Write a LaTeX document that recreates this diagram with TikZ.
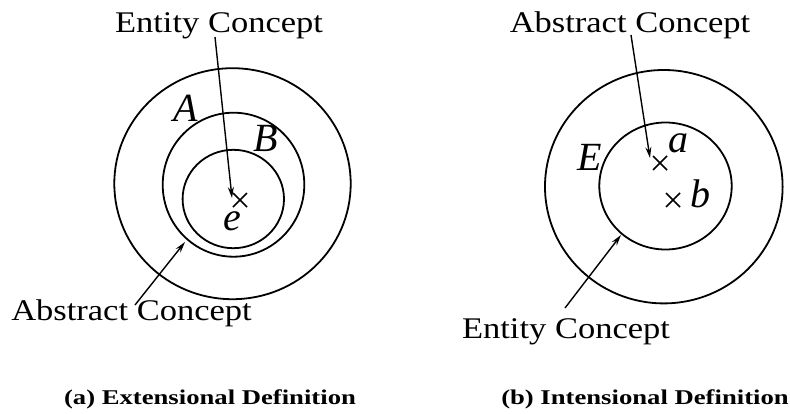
\documentclass[tikz,border=0pt]{standalone}
\usepackage{fontspec}
\setmainfont{Liberation Serif}
\newfontfamily\lblfont[FakeStretch=1.15]{Liberation Serif}
\newfontfamily\capfont[FakeStretch=1.27]{Liberation Serif Bold}
\usetikzlibrary{arrows.meta}
\tikzset{
  ring/.style={line width=1.8pt},
  arr/.style={line width=1.4pt,-{Stealth[length=11pt,width=6pt]}},
  crossline/.style={line width=1.5pt},
  txtlbl/.style={inner sep=0pt,anchor=base,font=\lblfont\fontsize{30}{34}\selectfont},
  varlbl/.style={inner sep=0pt,anchor=base,font=\fontsize{40}{44}\selectfont\itshape},
  captxt/.style={inner sep=0pt,anchor=base,font=\capfont\fontsize{21}{24}\selectfont},
}
\begin{document}
\begin{tikzpicture}[x=1pt,y=-1pt]
\useasboundingbox (0,0) rectangle (790,413);
% ---------- (a) ----------
\draw[ring] (232.5,183.7) ellipse [x radius=118.2, y radius=115.5];
\draw[ring] (233.5,184.7) ellipse [x radius=70.8, y radius=72];
\draw[ring] (233.3,199) ellipse [x radius=50.7, y radius=49.2];
\draw[crossline] (233,193) -- (247,207) (233,207) -- (247,193);
\node[varlbl] (A) at (186,121) {A};
\node[varlbl] (B) at (266,151) {B};
\node[varlbl] (e) at (232,230) {e};
\node[txtlbl] (ent1) at (219,32.5) {Entity Concept};
\node[txtlbl] (abs1) at (131.5,320) {Abstract Concept};
\coordinate (ent1s) at (215,37);
\coordinate (ent1t) at (232,198);
\coordinate (abs1s) at (135,305);
\coordinate (abs1t) at (185,242);
\draw[arr] (ent1s) -- (ent1t);
\draw[arr] (abs1s) -- (abs1t);
\node[captxt] (capa) at (210,404.5) {(a) Extensional Definition};
% ---------- (b) ----------
\draw[ring] (663.8,186.7) ellipse [x radius=118.8, y radius=116.7];
\draw[ring] (665.5,186) ellipse [x radius=66.2, y radius=63.5];
\draw[crossline] (653,156) -- (667,170) (653,170) -- (667,156);
\draw[crossline] (666,193) -- (680,207) (666,207) -- (680,193);
\node[varlbl] (E) at (590,170) {E};
\node[varlbl] (a) at (678,152) {a};
\node[varlbl] (b) at (700,207) {b};
\node[txtlbl] (abs2) at (630,32) {Abstract Concept};
\node[txtlbl] (ent2) at (566,338) {Entity Concept};
\coordinate (abs2s) at (631,35);
\coordinate (abs2t) at (650,158);
\coordinate (ent2s) at (565,308);
\coordinate (ent2t) at (621,235);
\draw[arr] (abs2s) -- (abs2t);
\draw[arr] (ent2s) -- (ent2t);
\node[captxt] (capb) at (645,404.5) {(b) Intensional Definition};
\end{tikzpicture}
\end{document}
